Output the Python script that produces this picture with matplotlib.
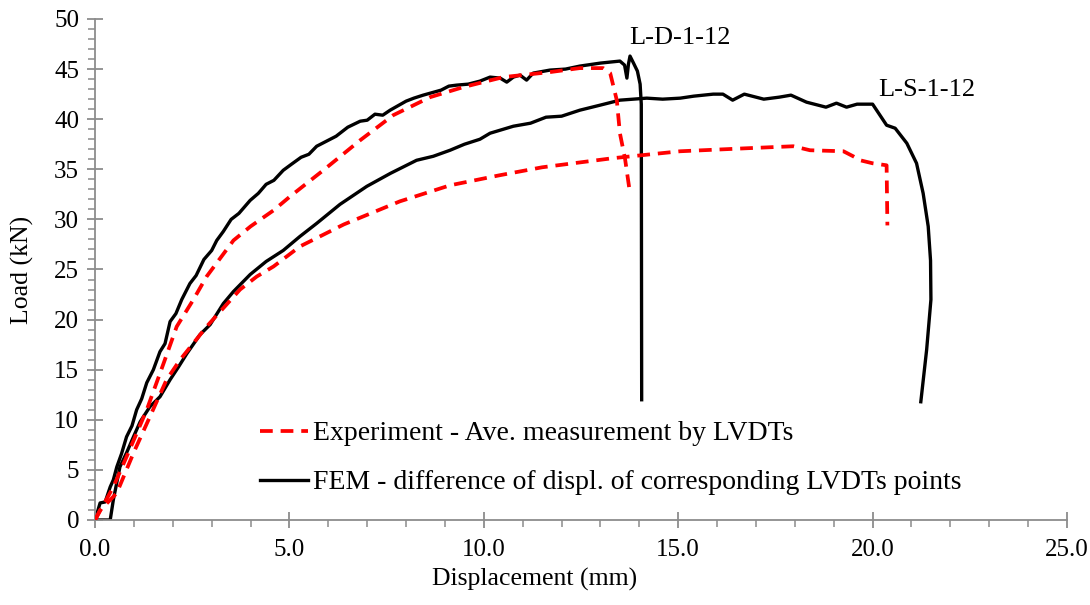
import numpy as np
import matplotlib
matplotlib.use('Agg')
import matplotlib.pyplot as plt
from matplotlib.ticker import MultipleLocator, FormatStrFormatter

plt.rcParams['font.family'] = ['Liberation Serif', 'DejaVu Serif']
plt.rcParams['font.size'] = 18

# FEM - L-D-1-12 (black, upper)
fem_ld_x = [0, 0.13, 0.26, 0.39, 0.47, 0.56, 0.68, 0.81, 0.95, 1.07, 1.2, 1.33, 1.5, 1.67, 1.8, 1.93,
            2.08, 2.23, 2.44, 2.6, 2.8, 3.0, 3.13, 3.3, 3.5, 3.7, 3.99, 4.2, 4.4, 4.6, 4.84, 5.05, 5.3,
            5.5, 5.7, 5.95, 6.2, 6.5, 6.82, 7.0, 7.2, 7.4, 7.59, 8.0, 8.2, 8.44, 8.9, 9.1, 9.3, 9.6,
            9.9, 10.16, 10.42, 10.59, 10.76, 10.93, 11.1, 11.27, 11.7, 12.1, 12.47, 13.0, 13.5, 13.62,
            13.68, 13.72, 13.76, 13.85, 13.95, 14.02, 14.05, 14.06]
fem_ld_y = [0, 1.7, 1.8, 3.3, 4.0, 5.3, 6.6, 8.3, 9.4, 11.0, 12.1, 13.7, 15.0, 16.8, 17.6, 19.8,
            20.6, 22.0, 23.6, 24.4, 26.0, 26.9, 27.9, 28.8, 30.0, 30.6, 31.9, 32.6, 33.5, 33.9, 34.9, 35.5, 36.2,
            36.5, 37.3, 37.8, 38.3, 39.2, 39.8, 39.9, 40.5, 40.4, 40.9, 41.8, 42.1, 42.4, 42.9, 43.3, 43.4, 43.5,
            43.8, 44.2, 44.1, 43.7, 44.2, 44.4, 43.9, 44.6, 44.9, 45.0, 45.3, 45.6, 45.8, 45.4,
            44.1, 45.5, 46.3, 45.6, 44.8, 43.5, 41.5, 12.0]

# Experiment - L-D-1-12 (red dashed, upper)
exp_ld_x = [0, 0.47, 0.81, 1.33, 1.76, 2.1, 2.53, 2.87, 3.56, 4.0, 4.59, 5.02, 5.87, 6.82, 7.67,
            8.62, 9.47, 10.5, 11.7, 12.47, 13.07, 13.25, 13.42, 13.5, 13.63, 13.76]
exp_ld_y = [0, 3.3, 6.3, 11.0, 15.6, 19.3, 22.0, 24.3, 27.9, 29.3, 30.9, 32.3, 34.9, 37.9, 40.4,
            42.2, 43.2, 44.2, 44.7, 45.1, 45.1, 44.6, 41.9, 38.6, 36.1, 32.6]

# FEM - L-S-1-12 (black, lower)
fem_ls_x = [0, 0.39, 0.47, 0.64, 0.81, 1.0, 1.16, 1.41, 1.67, 1.93, 2.15, 2.36, 2.7, 2.96, 3.3,
            3.56, 3.99, 4.4, 4.84, 5.27, 5.7, 6.3, 6.99, 7.6, 8.27, 8.7, 9.13, 9.5, 9.9, 10.16, 10.76,
            11.2, 11.6, 12.0, 12.47, 12.99, 13.5, 14.19, 14.6, 15.05, 15.4, 15.9, 16.15, 16.4, 16.7,
            17.0, 17.2, 17.6, 17.9, 18.3, 18.8, 19.07, 19.33, 19.6, 19.85, 20.0, 20.36, 20.58, 20.88,
            21.13, 21.3, 21.43, 21.49, 21.5, 21.39, 21.24]
fem_ls_y = [0, 0, 2.0, 5.3, 6.7, 8.4, 9.8, 11.3, 12.3, 14.0, 15.3, 16.6, 18.5, 19.5, 21.6,
            22.8, 24.5, 25.8, 26.9, 28.3, 29.6, 31.5, 33.3, 34.6, 35.9, 36.3, 36.9, 37.5, 38.0, 38.6, 39.3,
            39.6, 40.2, 40.3, 40.9, 41.4, 41.9, 42.1, 42.0, 42.1, 42.3, 42.5, 42.5, 41.9, 42.5,
            42.2, 42.0, 42.2, 42.4, 41.7, 41.2, 41.6, 41.2, 41.5, 41.5, 41.5, 39.4, 39.1, 37.6,
            35.6, 32.6, 29.3, 25.9, 22.0, 17.0, 11.8]

# Experiment - L-S-1-12 (red dashed, lower)
exp_ls_x = [0, 0.13, 0.39, 0.56, 0.99, 1.41, 1.84, 2.19, 2.87, 3.73, 4.16, 4.59, 5.27, 6.4, 7.84,
            9.13, 10.4, 11.5, 13.3, 15.05, 16.76, 17.96, 18.39, 19.25, 19.5, 19.68, 20.0, 20.36, 20.38]
exp_ls_y = [0, 1.0, 2.0, 2.7, 6.7, 10.3, 14.0, 16.0, 19.3, 23.0, 24.3, 25.3, 27.3, 29.5, 31.8,
            33.4, 34.4, 35.2, 36.1, 36.8, 37.1, 37.3, 36.9, 36.8, 36.3, 35.9, 35.6, 35.4, 29.4]

labels = ['Experiment - Ave. measurement by LVDTs',
          'FEM - difference of displ. of corresponding LVDTs points']

fig = plt.figure(figsize=(10.9, 6.05), dpi=100)
ax = fig.add_axes([0.0872, 0.1405, 0.8917, 0.8281])

black_kw = dict(color='black', lw=2.4, solid_joinstyle='round')
red_kw = dict(color='#ff0000', lw=2.7, dashes=(3.4, 2.1))

l2, = ax.plot(fem_ld_x, fem_ld_y, zorder=2, **black_kw)
ax.plot(fem_ls_x, fem_ls_y, zorder=2, **black_kw)
l1, = ax.plot(exp_ld_x, exp_ld_y, zorder=3, **red_kw)
ax.plot(exp_ls_x, exp_ls_y, zorder=3, **red_kw)

ax.text(15.05, 48.1, 'L-D-1-12', ha='center', va='center', fontsize=19)
ax.text(20.15, 42.9, 'L-S-1-12', ha='left', va='center', fontsize=19)

ax.set_xlim(0, 25)
ax.set_ylim(0, 50)
ax.xaxis.set_major_locator(MultipleLocator(5))
ax.xaxis.set_minor_locator(MultipleLocator(1))
ax.yaxis.set_major_locator(MultipleLocator(5))
ax.yaxis.set_minor_locator(MultipleLocator(1))
ax.xaxis.set_major_formatter(FormatStrFormatter('%.1f'))

for s in ['top', 'right']:
    ax.spines[s].set_visible(False)
for s in ['left', 'bottom']:
    ax.spines[s].set_color('#8c8c8c')
    ax.spines[s].set_linewidth(1.3)

ax.tick_params(which='major', direction='inout', length=11, width=1.3, color='#8c8c8c',
               labelsize=18, labelcolor='black')
ax.tick_params(which='minor', direction='out', length=5, width=1.1, color='#8c8c8c')
ax.tick_params(axis='x', which='major', pad=8)
ax.tick_params(axis='y', which='major', pad=6)

ax.set_xlabel('Displacement (mm)', fontsize=18.5)
ax.set_ylabel('Load (kN)', fontsize=18.5)
ax.xaxis.set_label_coords(0.452, -0.095)
ax.yaxis.set_label_coords(-0.063, 0.5)

leg = ax.legend([l1, l2], labels, loc='upper left', bbox_to_anchor=(0.158, 0.22),
                frameon=False, handlelength=1.75, handletextpad=0.15, labelspacing=0.85,
                fontsize=20, borderaxespad=0.0)

fig.savefig('out.png', dpi=100)
